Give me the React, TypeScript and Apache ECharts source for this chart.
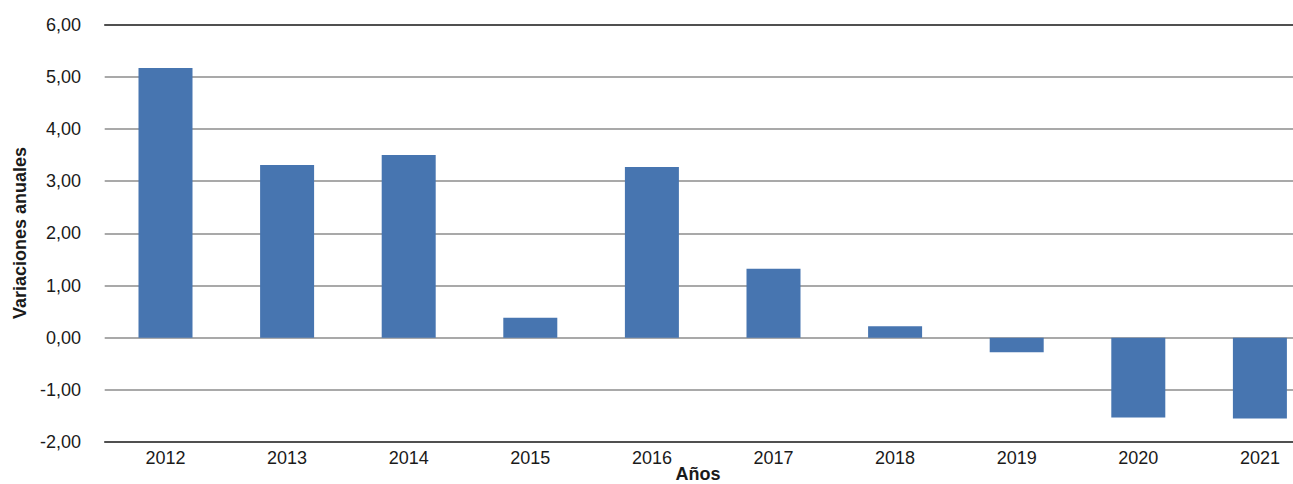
import React, { useEffect, useRef } from "react";
import * as echarts from "echarts";

const years = ["2012", "2013", "2014", "2015", "2016", "2017", "2018", "2019", "2020", "2021"];
const variations = [5.17, 3.31, 3.5, 0.38, 3.27, 1.32, 0.22, -0.28, -1.53, -1.55];
const yTicks = { min: -2, max: 6, interval: 1 };
const xTitle = "Años";
const yTitle = "Variaciones anuales";

const FONT = "'Liberation Sans', Arial, sans-serif";

export default function App() {
  const ref = useRef<HTMLDivElement>(null);
  useEffect(() => {
    if (!ref.current) return;
    const chart = echarts.init(ref.current, null, { renderer: "svg" });
    chart.setOption({
      animation: false,
      backgroundColor: "#ffffff",
      textStyle: { fontFamily: FONT },
      grid: { left: 104.7, top: 24.7, width: 1216, height: 417.3, containLabel: false },
      xAxis: [
        {
          type: "category",
          data: years,
          boundaryGap: true,
          axisLine: { show: true, onZero: false, lineStyle: { color: "#333333", width: 1.5 } },
          axisTick: { show: false },
          axisLabel: { color: "#1a1a1a", fontSize: 18, margin: 7, fontFamily: FONT },
          splitLine: { show: false },
          z: 3,
        },
        {
          type: "category",
          data: years,
          position: "top",
          boundaryGap: true,
          axisLine: { show: true, onZero: false, lineStyle: { color: "#333333", width: 1.5 } },
          axisTick: { show: false },
          axisLabel: { show: false },
          splitLine: { show: false },
          z: 3,
        },
      ],
      yAxis: {
        type: "value",
        min: yTicks.min,
        max: yTicks.max,
        interval: yTicks.interval,
        axisLine: { show: false },
        axisTick: { show: false },
        axisLabel: {
          color: "#1a1a1a",
          fontSize: 18,
          margin: 23.7,
          fontFamily: FONT,
          formatter: (v: number) => v.toFixed(2).replace(".", ","),
        },
        splitLine: { show: true, lineStyle: { color: "#8c8c8c", width: 1.5 } },
      },
      graphic: [
        {
          type: "text",
          x: 698,
          y: 474,
          style: {
            text: xTitle,
            font: `bold 18px ${FONT}`,
            fill: "#1a1a1a",
            textAlign: "center",
            textVerticalAlign: "middle",
          },
        },
        {
          type: "text",
          x: 20,
          y: 233,
          rotation: Math.PI / 2,
          style: {
            text: yTitle,
            font: `bold 18px ${FONT}`,
            fill: "#1a1a1a",
            textAlign: "center",
            textVerticalAlign: "middle",
          },
        },
      ],
      series: [
        {
          type: "bar",
          xAxisIndex: 0,
          data: variations,
          barWidth: 54,
          itemStyle: { color: "#4775b0" },
        },
      ],
    });
    return () => chart.dispose();
  }, []);
  return (
    <div style={{ position: "absolute", left: 0, top: 0, width: 1293, height: 484, overflow: "hidden", background: "#fff" }}>
      <div ref={ref} style={{ width: 1330, height: 484 }} />
    </div>
  );
}
